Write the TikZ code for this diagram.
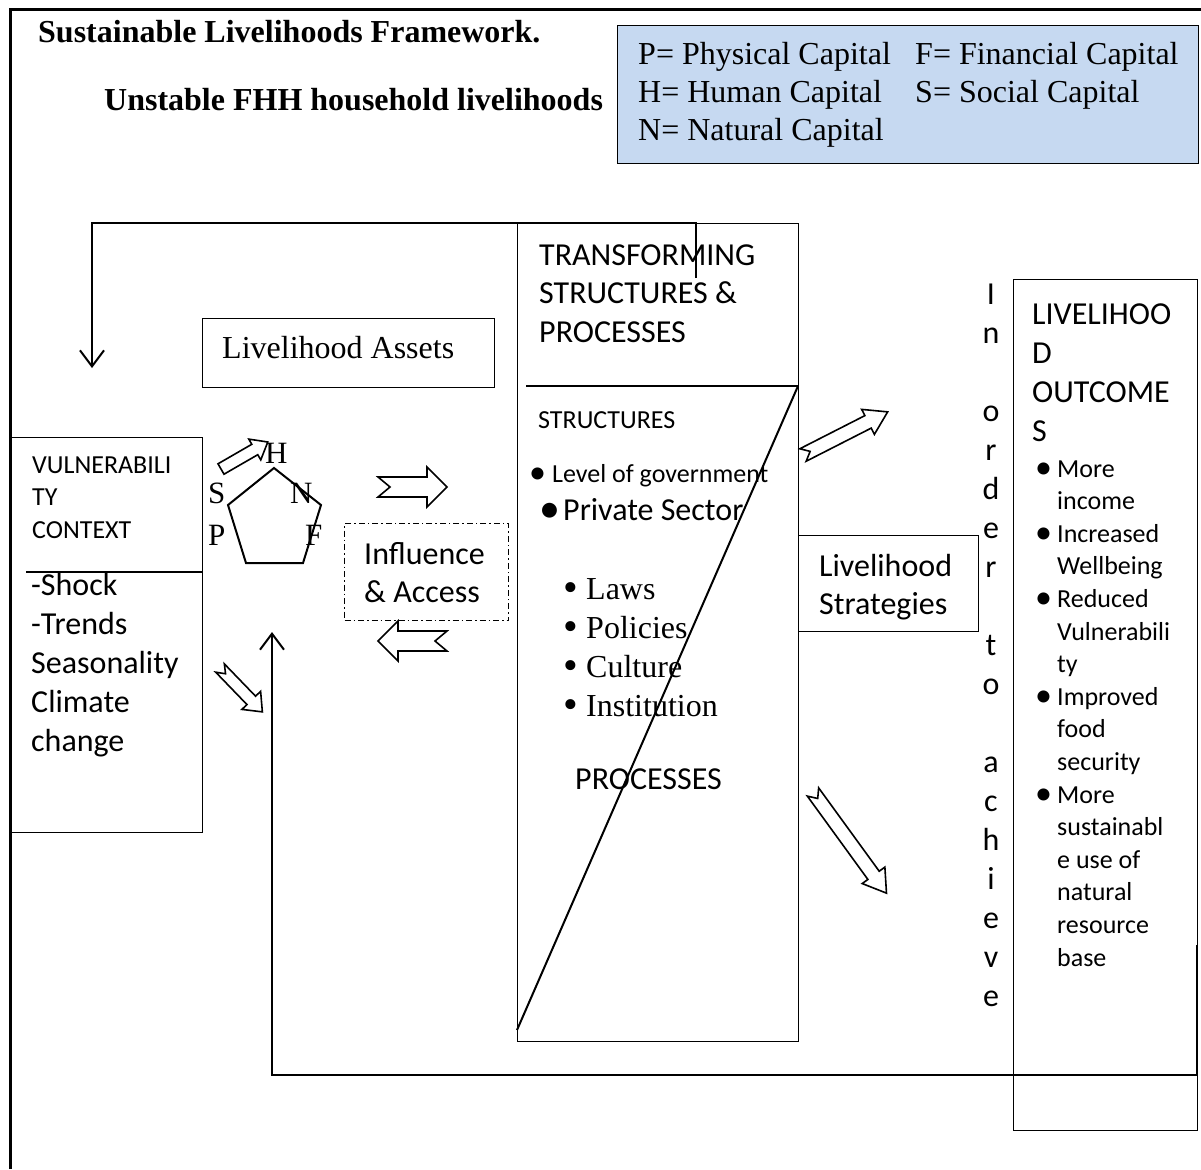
\documentclass[tikz,border=0pt]{standalone}
\usepackage{fontspec}
\setmainfont{Liberation Serif}
\newfontfamily\cb{Carlito}
\usetikzlibrary{arrows.meta}
\definecolor{legendblue}{HTML}{C6D9F1}
\newcommand\fsz[2]{\fontsize{#1}{#2}\selectfont}
% block arrow: tail point, angle, length, shaft half-width, head half-width, head length, notch depth
\newcommand\blkarrow[7]{%
  \draw[blkarr, shift={(#1)}, rotate=#2] (0,-#4) -- ({#3-#6},-#4) -- ({#3-#6},-#5) -- (#3,0)
    -- ({#3-#6},#5) -- ({#3-#6},#4) -- (0,#4) -- (#7,0) -- cycle;}
\newcommand\bigbul{\raisebox{-2pt}{\fontsize{42}{38}\selectfont\textbullet}}
\newcommand\midbul{\raisebox{-1.5pt}{\fontsize{34}{30}\selectfont\textbullet}}
\begin{document}
\begin{tikzpicture}[x=1pt,y=-1pt,
  thinbox/.style={draw, line width=1pt},
  thickline/.style={line width=2.5pt},
  loopline/.style={line width=2pt, -{Straight Barb[length=16pt,width=24pt,line width=2pt]}},
  blkarr/.style={draw, fill=white, line width=1.6pt, line join=miter},
  txt/.style={inner sep=0pt, anchor=base west, align=left},
  ctxt/.style={inner sep=0pt, anchor=base, align=center}]
\useasboundingbox (0,0) rectangle (1201,1169);
\fill[white] (0,0) rectangle (1201,1169);

% outer frame
\draw[line width=3pt] (10,1169) -- (10,10) -- (1201,10);

% titles
\node[txt, font=\fsz{32}{38}\bfseries] (title1) at (38,43) {Sustainable Livelihoods Framework.};
\node[txt, font=\fsz{32}{38}\bfseries] (title2) at (104,111) {Unstable FHH household livelihoods};

% legend (base anchor = baseline of last line)
\draw[thinbox, fill=legendblue] (617,26) rectangle (1198,164);
\node[txt, font=\fsz{32}{38}] (leg1) at (638,141) {P= Physical Capital\\H= Human Capital\\N= Natural Capital};
\node[txt, font=\fsz{32}{38}] (leg2) at (915,103) {F= Financial Capital\\S= Social Capital};

% boxes
\node[thinbox, minimum width=292pt, minimum height=69pt, anchor=north west, inner sep=0pt] (assets) at (202,318) {};
\node[txt, font=\fsz{32}{38}] at (222,358) {Livelihood Assets};

\node[thinbox, minimum width=192pt, minimum height=395pt, anchor=north west, inner sep=0pt] (vuln) at (10,437) {};
\draw[thickline] (26,572) -- (202,572);
\node[txt, font=\cb\fsz{26}{32.5}] (vulntitle) at (32,538) {VULNERABILI\\TY\\CONTEXT};
\node[txt, font=\cb\fsz{32}{39}] (vulnlist) at (31,751) {-Shock\\-Trends\\Seasonality\\Climate\\change};

\node[thinbox, minimum width=281pt, minimum height=818pt, anchor=north west, inner sep=0pt] (trans) at (517,223) {};
\draw[thickline] (526,386) -- (798,386);
\coordinate (diagtop) at (798,386);
\coordinate (diagbot) at (517,1030);
\draw[line width=2pt] (diagtop) -- (diagbot);
\node[txt, font=\cb\fsz{32}{38.5}] (transtitle) at (539,342) {TRANSFORMING\\STRUCTURES \&\\PROCESSES};
\node[txt, font=\cb\fsz{26}{30}] (structs) at (538,428) {STRUCTURES};
\node[txt, font=\cb\fsz{26}{30}] at (529,482) {\midbul};
\node[txt, font=\cb\fsz{26}{30}] (gov) at (552,482) {Level of government};
\node[txt, font=\cb\fsz{32}{38}] at (539,520) {\bigbul};
\node[txt, font=\cb\fsz{32}{38}] (priv) at (563,520) {Private Sector};
\node[txt, font=\fsz{32}{38.7}] at (563,716) {\bigbul\\\bigbul\\\bigbul\\\bigbul};
\node[txt, font=\fsz{32}{38.7}] (laws) at (586,716) {Laws\\Policies\\Culture\\Institution};
\node[txt, font=\cb\fsz{32}{38}] (procs) at (575,789) {PROCESSES};

\node[draw, line width=1pt, dash pattern=on 6pt off 3pt on 1.5pt off 3pt, minimum width=164pt, minimum height=97pt, anchor=north west, inner sep=0pt] (influence) at (344,523) {};
\node[txt, font=\cb\fsz{32}{38}] at (364,602) {Influence\\\& Access};

\node[thinbox, minimum width=180pt, minimum height=96pt, anchor=north west, inner sep=0pt] (strat) at (798,535) {};
\node[txt, font=\cb\fsz{32}{38}] at (819,614) {Livelihood\\Strategies};

\node[ctxt, font=\cb\fsz{32}{39}] (inorder) at (991,1006) {I\\n\\\mbox{}\\o\\r\\d\\e\\r\\\mbox{}\\t\\o\\\mbox{}\\a\\c\\h\\i\\e\\v\\e};

\node[thinbox, minimum width=184pt, minimum height=851pt, anchor=north west, inner sep=0pt] (outc) at (1013,279) {};
\node[txt, font=\cb\fsz{32}{39}] (outtitle) at (1032,441) {LIVELIHOO\\D\\OUTCOME\\S};
\node[txt, font=\cb\fsz{26}{32.6}] at (1035,966) {\midbul\\\mbox{}\\\midbul\\\mbox{}\\\midbul\\\mbox{}\\\mbox{}\\\midbul\\\mbox{}\\\mbox{}\\\midbul\\\mbox{}\\\mbox{}\\\mbox{}\\\mbox{}\\\mbox{}};
\node[txt, font=\cb\fsz{26}{32.6}] (outlist) at (1057,966) {More\\income\\Increased\\Wellbeing\\Reduced\\Vulnerabili\\ty\\Improved\\food\\security\\More\\sustainabl\\e use of\\natural\\resource\\base};

% pentagon of assets
\coordinate (pH) at (274,468);
\coordinate (pN) at (321,505);
\coordinate (pF) at (303,563);
\coordinate (pP) at (246,563);
\coordinate (pS) at (228,505);
\draw[line width=2pt, line join=miter] (pH) -- (pN) -- (pF) -- (pP) -- (pS) -- cycle;
\node[txt, font=\fsz{31}{36}] (lH) at (265,463) {H};
\node[txt, font=\fsz{31}{36}] (lS) at (208,503) {S};
\node[txt, font=\fsz{31}{36}] (lN) at (290,503) {N};
\node[txt, font=\fsz{31}{36}] (lP) at (208,545) {P};
\node[txt, font=\fsz{31}{36}] (lF) at (305,545) {F};

% feedback loops
\coordinate (topstart) at (696,278);
\coordinate (topA) at (696,223);
\coordinate (topB) at (92,223);
\coordinate (topend) at (92,368);
\draw[loopline] (topstart) -- (topA) -- (topB) -- (topend);
\coordinate (botstart) at (1197,945);
\coordinate (botA) at (1197,1075);
\coordinate (botB) at (272,1075);
\coordinate (botend) at (272,632);
\draw[loopline, line width=2.5pt] (botstart) -- (botA) -- (botB) -- (botend);

% block arrows
\blkarrow{221,469}{30}{54}{6}{12}{15}{0}
\blkarrow{378,487}{0}{69}{10}{20}{20}{12}
\blkarrow{447,641}{180}{69}{10}{20}{20}{12}
\blkarrow{220,668}{-46}{61}{6}{13}{16}{8}
\blkarrow{803,455}{27}{95}{7}{14}{22}{8}
\blkarrow{813,792}{-54}{125}{7}{14}{22}{8}
\end{tikzpicture}
\end{document}
